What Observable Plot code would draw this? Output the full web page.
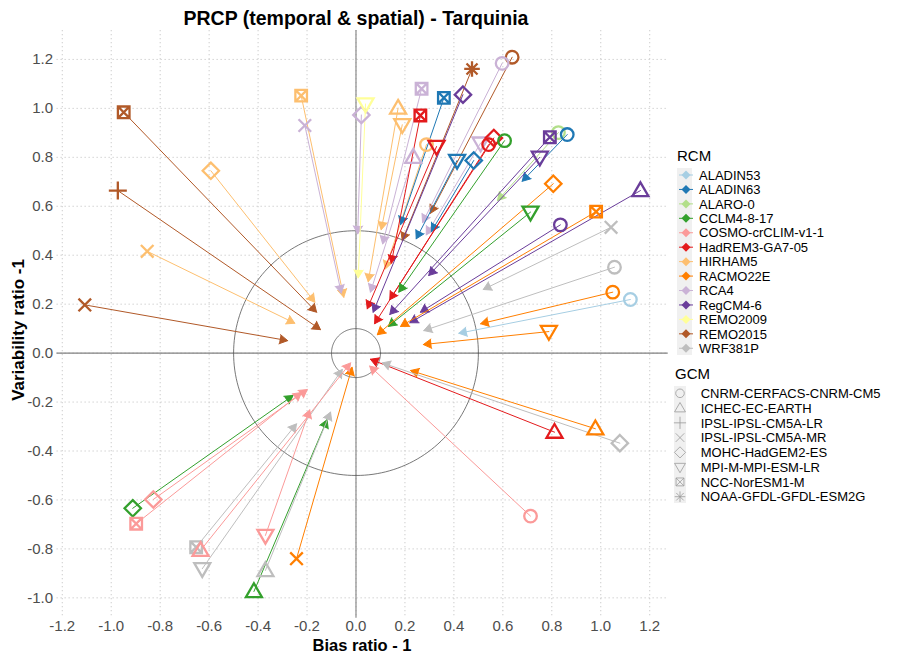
<!DOCTYPE html>
<html><head><meta charset="utf-8">
<script src="https://cdn.jsdelivr.net/npm/d3@7"></script>
<script src="https://cdn.jsdelivr.net/npm/@observablehq/plot@0.6"></script>
<style>
body{margin:0;background:#fff;}
#wrap{position:relative;width:916px;height:652px;overflow:hidden;font-family:"Liberation Sans",Arial,sans-serif;background:#fff;}
#wrap > svg{position:absolute;left:0;top:0;}
</style></head><body><div id="wrap"></div>
<script>
// ---- legend categories ----
const rcms = ["ALADIN53","ALADIN63","ALARO-0","CCLM4-8-17","COSMO-crCLIM-v1-1","HadREM3-GA7-05","HIRHAM5","RACMO22E","RCA4","RegCM4-6","REMO2009","REMO2015","WRF381P"];
const rcmColors = ["#A6CEE3","#1F78B4","#B2DF8A","#33A02C","#FB9A99","#E31A1C","#FDBF6F","#FF7F00","#CAB2D6","#6A3D9A","#FFFF99","#B15928","#BEBEBE"];
const gcms = ["CNRM-CERFACS-CNRM-CM5","ICHEC-EC-EARTH","IPSL-IPSL-CM5A-LR","IPSL-IPSL-CM5A-MR","MOHC-HadGEM2-ES","MPI-M-MPI-ESM-LR","NCC-NorESM1-M","NOAA-GFDL-GFDL-ESM2G"];

// ---- model chains ----
const rcm = ["ALARO-0",
  "REMO2015","REMO2015","REMO2015","REMO2015","REMO2015",
  "HIRHAM5","HIRHAM5","HIRHAM5","HIRHAM5","HIRHAM5","HIRHAM5",
  "RCA4","RCA4","RCA4","RCA4","RCA4","RCA4",
  "REMO2009",
  "ALADIN63","ALADIN63","ALADIN63","ALADIN63",
  "HadREM3-GA7-05","HadREM3-GA7-05","HadREM3-GA7-05","HadREM3-GA7-05","HadREM3-GA7-05",
  "CCLM4-8-17","CCLM4-8-17","CCLM4-8-17","CCLM4-8-17",
  "RegCM4-6","RegCM4-6","RegCM4-6","RegCM4-6","RegCM4-6",
  "RACMO22E","RACMO22E","RACMO22E","RACMO22E","RACMO22E","RACMO22E",
  "ALADIN53",
  "WRF381P","WRF381P","WRF381P","WRF381P","WRF381P","WRF381P",
  "COSMO-crCLIM-v1-1","COSMO-crCLIM-v1-1","COSMO-crCLIM-v1-1","COSMO-crCLIM-v1-1","COSMO-crCLIM-v1-1"];
const gcm = ["CNRM-CERFACS-CNRM-CM5",
  "NCC-NorESM1-M","IPSL-IPSL-CM5A-LR","IPSL-IPSL-CM5A-MR","NOAA-GFDL-GFDL-ESM2G","CNRM-CERFACS-CNRM-CM5",
  "MOHC-HadGEM2-ES","IPSL-IPSL-CM5A-MR","NCC-NorESM1-M","ICHEC-EC-EARTH","MPI-M-MPI-ESM-LR","CNRM-CERFACS-CNRM-CM5",
  "IPSL-IPSL-CM5A-MR","MOHC-HadGEM2-ES","NCC-NorESM1-M","ICHEC-EC-EARTH","CNRM-CERFACS-CNRM-CM5","MPI-M-MPI-ESM-LR",
  "MPI-M-MPI-ESM-LR",
  "NCC-NorESM1-M","MPI-M-MPI-ESM-LR","MOHC-HadGEM2-ES","CNRM-CERFACS-CNRM-CM5",
  "NCC-NorESM1-M","MPI-M-MPI-ESM-LR","CNRM-CERFACS-CNRM-CM5","MOHC-HadGEM2-ES","ICHEC-EC-EARTH",
  "CNRM-CERFACS-CNRM-CM5","MPI-M-MPI-ESM-LR","MOHC-HadGEM2-ES","ICHEC-EC-EARTH",
  "MOHC-HadGEM2-ES","NCC-NorESM1-M","MPI-M-MPI-ESM-LR","CNRM-CERFACS-CNRM-CM5","ICHEC-EC-EARTH",
  "MOHC-HadGEM2-ES","NCC-NorESM1-M","CNRM-CERFACS-CNRM-CM5","MPI-M-MPI-ESM-LR","ICHEC-EC-EARTH","IPSL-IPSL-CM5A-MR",
  "CNRM-CERFACS-CNRM-CM5",
  "IPSL-IPSL-CM5A-MR","CNRM-CERFACS-CNRM-CM5","MOHC-HadGEM2-ES","NCC-NorESM1-M","MPI-M-MPI-ESM-LR","ICHEC-EC-EARTH",
  "MOHC-HadGEM2-ES","NCC-NorESM1-M","ICHEC-EC-EARTH","MPI-M-MPI-ESM-LR","CNRM-CERFACS-CNRM-CM5"];
// marker (start) and arrow tip (end) positions
const biasStart = [0.827,
  -0.949,-0.973,-1.108,0.474,0.638,
  -0.593,-0.853,-0.224,0.172,0.189,0.288,
  -0.209,0.022,0.268,0.234,0.597,0.509,
  0.039,
  0.359,0.413,0.481,0.863,
  0.263,0.329,0.542,0.563,0.811,
  0.607,0.713,-0.912,-0.417,
  0.437,0.792,0.751,0.835,1.162,
  0.806,0.981,1.049,0.788,0.978,-0.243,
  1.121,
  1.042,1.056,1.078,-0.653,-0.628,-0.370,
  -0.828,-0.898,-0.635,-0.370,0.713];
const varStart = [0.901,
  0.984,0.664,0.197,1.161,1.209,
  0.745,0.416,1.052,1.001,0.933,0.852,
  0.930,0.973,1.080,0.800,1.184,0.858,
  1.018,
  1.043,0.787,0.787,0.893,
  0.971,0.844,0.852,0.879,-0.323,
  0.868,0.576,-0.634,-0.974,
  1.056,0.882,0.800,0.524,0.664,
  0.692,0.578,0.249,0.088,-0.309,-0.840,
  0.219,
  0.514,0.351,-0.368,-0.793,-0.881,-0.888,
  -0.598,-0.697,-0.806,-0.745,-0.666];
const biasEnd = [0.578,
  -0.161,-0.145,-0.279,0.189,0.304,
  -0.168,-0.250,-0.050,0.050,0.103,0.120,
  -0.060,0.007,0.109,0.059,0.272,0.287,
  0.009,
  0.182,0.246,0.308,0.679,
  0.144,0.046,0.076,0.138,0.059,
  0.175,0.132,-0.257,-0.118,
  0.070,0.138,0.297,0.263,0.220,
  0.087,0.182,0.509,0.275,0.223,-0.016,
  0.420,
  0.520,0.277,0.107,-0.243,-0.056,-0.104,
  -0.199,-0.223,-0.022,-0.189,0.056];
const varEnd = [0.623,
  0.167,0.096,0.051,0.460,0.571,
  0.208,0.122,0.228,0.292,0.504,0.344,
  0.245,0.487,0.446,0.249,0.533,0.483,
  0.307,
  0.525,0.467,0.497,0.702,
  0.367,0.181,0.120,0.218,-0.025,
  0.249,0.109,-0.173,-0.272,
  0.167,0.158,0.317,0.167,0.124,
  0.075,0.109,0.120,0.035,-0.071,-0.058,
  0.081,
  0.260,0.092,-0.040,-0.289,-0.067,-0.241,
  -0.149,-0.161,-0.040,-0.232,-0.053];

const xTicks = [-1.2,-1.0,-0.8,-0.6,-0.4,-0.2,0.0,0.2,0.4,0.6,0.8,1.0,1.2];
const yTicks = [-1.0,-0.8,-0.6,-0.4,-0.2,0.0,0.2,0.4,0.6,0.8,1.0,1.2];
const circleRadii = [0.1, 0.5];

// ---- build tables ----
const rows = rcm.map((r, i) => ({rcm: r, gcm: gcm[i], x1: biasStart[i], y1: varStart[i], x2: biasEnd[i], y2: varEnd[i]}));
const circlePts = circleRadii.flatMap(r => d3.range(0, 361, 2).map(a => ({r, x: r * Math.cos(a * Math.PI / 180), y: r * Math.sin(a * Math.PI / 180)})));
function expand(vals) { const [a, b] = d3.extent(vals); const p = (b - a) * 0.05; return [a - p, b + p]; }
const xDomain = expand(biasStart.concat(biasEnd));
const yDomain = expand(varStart.concat(varEnd));

// ---- symbols (ggplot shapes 1..8) ----
function makeSymbols(k) {
  return [
    {draw(c){ const r=6.3*k; c.moveTo(r,0); c.arc(0,0,r,0,2*Math.PI); }},
    {draw(c){ c.moveTo(0,-8.2*k); c.lineTo(8*k,5.6*k); c.lineTo(-8*k,5.6*k); c.closePath(); }},
    {draw(c){ const a=9*k; c.moveTo(-a,0); c.lineTo(a,0); c.moveTo(0,-a); c.lineTo(0,a); }},
    {draw(c){ const a=6.3*k; c.moveTo(-a,-a); c.lineTo(a,a); c.moveTo(-a,a); c.lineTo(a,-a); }},
    {draw(c){ const a=8.2*k; c.moveTo(0,-a); c.lineTo(a,0); c.lineTo(0,a); c.lineTo(-a,0); c.closePath(); }},
    {draw(c){ c.moveTo(0,8.2*k); c.lineTo(8*k,-5.6*k); c.lineTo(-8*k,-5.6*k); c.closePath(); }},
    {draw(c){ const a=5.8*k; c.moveTo(-a,-a); c.lineTo(a,-a); c.lineTo(a,a); c.lineTo(-a,a); c.closePath(); c.moveTo(-a,-a); c.lineTo(a,a); c.moveTo(-a,a); c.lineTo(a,-a); }},
    {draw(c){ const a=7.8*k, b=5.5*k; c.moveTo(-a,0); c.lineTo(a,0); c.moveTo(0,-a); c.lineTo(0,a); c.moveTo(-b,-b); c.lineTo(b,b); c.moveTo(-b,b); c.lineTo(b,-b); }}
  ];
}

const chart = Plot.plot({
  width: 916, height: 652,
  marginLeft: 56.5, marginRight: 248.3, marginTop: 30, marginBottom: 34.3,
  style: {fontFamily: "'Liberation Sans', Arial, sans-serif", fontSize: "15px", color: "#4d4d4d", background: "white"},
  x: {domain: xDomain, ticks: xTicks, tickFormat: d => d.toFixed(1), tickSize: 0, tickPadding: 2, label: null},
  y: {domain: yDomain, ticks: yTicks, tickFormat: d => d.toFixed(1), tickSize: 0, tickPadding: 4, label: null},
  color: {domain: rcms, range: rcmColors},
  symbol: {domain: gcms, range: makeSymbols(1)},
  marks: [
    Plot.ruleX(xTicks, {stroke: "#cccccc", strokeDasharray: "1.3,2.7", strokeWidth: 1}),
    Plot.ruleY(yTicks, {stroke: "#cccccc", strokeDasharray: "1.3,2.7", strokeWidth: 1}),
    Plot.ruleX([0], {stroke: "#808080", strokeWidth: 1.1}),
    Plot.ruleY([0], {stroke: "#808080", strokeWidth: 1.1}),
    Plot.line(circlePts, {x: "x", y: "y", z: "r", stroke: "#555555", strokeWidth: 0.8}),
    Plot.arrow(rows, {x1: "x1", y1: "y1", x2: "x2", y2: "y2", stroke: "rcm", fill: "rcm", strokeWidth: 1, headLength: 14, headAngle: 60}),
    Plot.dot(rows, {x: "x1", y: "y1", symbol: "gcm", stroke: "rcm", fill: "none", strokeWidth: 2.3})
  ]
});
const wrap = document.getElementById("wrap");
wrap.appendChild(chart);

// ---- titles and legends ----
const ov = d3.create("svg").attr("width", 916).attr("height", 652)
  .style("font-family", "'Liberation Sans', Arial, sans-serif").style("pointer-events", "none");
ov.append("text").attr("x", 356).attr("y", 25).attr("text-anchor", "middle")
  .attr("font-size", 19.5).attr("font-weight", "bold").attr("fill", "#000").text("PRCP (temporal & spatial) - Tarquinia");
ov.append("text").attr("x", 362).attr("y", 650.5).attr("text-anchor", "middle")
  .attr("font-size", 16.5).attr("font-weight", "bold").attr("fill", "#000").text("Bias ratio - 1");
ov.append("text").attr("transform", "translate(24,330) rotate(-90)").attr("text-anchor", "middle")
  .attr("font-size", 17).attr("font-weight", "bold").attr("fill", "#000").text("Variability ratio -1");

// RCM legend
const LF = 13;
const g1 = ov.append("g");
g1.append("text").attr("x", 677).attr("y", 160.5).attr("font-size", 15).attr("fill", "#000").text("RCM");
g1.append("rect").attr("x", 677).attr("y", 168).attr("width", 15).attr("height", 187).attr("fill", "#f0f0f0");
rcms.forEach((name, i) => {
  const cy = 175 + i * 14.44, col = rcmColors[i];
  g1.append("line").attr("x1", 679).attr("x2", 693).attr("y1", cy).attr("y2", cy).attr("stroke", col).attr("stroke-width", 1);
  g1.append("path").attr("d", `M686,${cy-4.5}L690.5,${cy}L686,${cy+4.5}L681.5,${cy}Z`).attr("fill", col);
  g1.append("text").attr("x", 699).attr("y", cy + 4.7).attr("font-size", LF).attr("fill", "#000").text(name);
});
// GCM legend
const g2 = ov.append("g");
g2.append("text").attr("x", 675).attr("y", 378.5).attr("font-size", 15).attr("fill", "#000").text("GCM");
g2.append("rect").attr("x", 674).attr("y", 386).attr("width", 12).attr("height", 117).attr("fill", "#f0f0f0");
const legSyms = makeSymbols(0.68);
gcms.forEach((name, i) => {
  const cy = 393.3 + i * 14.77;
  g2.append("path").attr("transform", `translate(680,${cy})`).attr("d", d3.symbol(legSyms[i], 1)())
    .attr("fill", "none").attr("stroke", "#9a9a9a").attr("stroke-width", 0.8);
  g2.append("text").attr("x", 700.7).attr("y", cy + 4.7).attr("font-size", LF).attr("fill", "#000").text(name);
});
wrap.appendChild(ov.node());
</script></body></html>
